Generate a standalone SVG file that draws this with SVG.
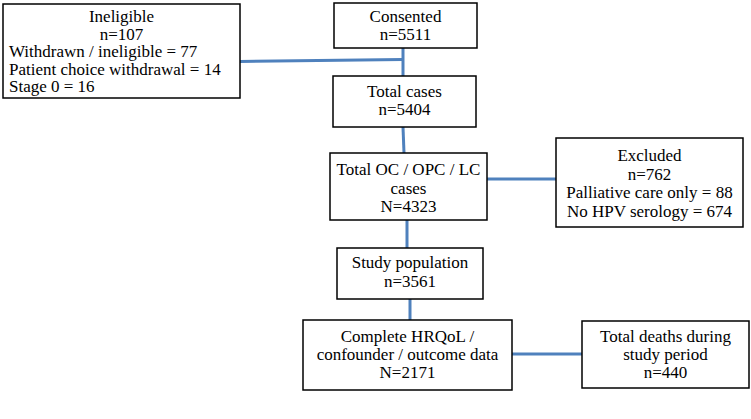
<svg xmlns="http://www.w3.org/2000/svg" width="751" height="419" viewBox="0 0 751 419">
<style>
.box{fill:#fff;stroke:#000;stroke-width:1.5}
.t{font-family:"Liberation Serif","Times New Roman",serif;font-size:17px;fill:#000;text-anchor:middle}
.l{text-anchor:start}
.c{fill:none;stroke:#4F81BD;stroke-width:3}
</style>
<rect width="751" height="419" fill="#fff"/>
<g id="connectors">
<path class="c" d="M240 61.5 L403 59.5"/>
<path class="c" d="M403 48 L403 76"/>
<path class="c" d="M403 127 L404 153"/>
<path class="c" d="M487 179 L556 179"/>
<path class="c" d="M407 220 L407 248"/>
<path class="c" d="M410 299 L410 320"/>
<path class="c" d="M512 354 L582 354"/>
</g>
<g id="ineligible">
<rect class="box" x="3" y="4" width="237" height="94"/>
<text class="t" x="121.5" y="22">Ineligible</text>
<text class="t" x="121.5" y="39.5">n=107</text>
<text class="t l" x="9" y="57">Withdrawn / ineligible = 77</text>
<text class="t l" x="9" y="74.5">Patient choice withdrawal = 14</text>
<text class="t l" x="9" y="92">Stage 0 = 16</text>
</g>
<g id="consented">
<rect class="box" x="334" y="3" width="143" height="45"/>
<text class="t" x="405.5" y="21.5">Consented</text>
<text class="t" x="405.5" y="39.5">n=5511</text>
</g>
<g id="total-cases">
<rect class="box" x="333" y="76" width="143" height="51"/>
<text class="t" x="404.5" y="97">Total cases</text>
<text class="t" x="404.5" y="115">n=5404</text>
</g>
<g id="total-oc">
<rect class="box" x="330" y="153" width="157" height="67"/>
<text class="t" x="408.5" y="175">Total OC / OPC / LC</text>
<text class="t" x="408.5" y="193.5">cases</text>
<text class="t" x="408.5" y="212">N=4323</text>
</g>
<g id="excluded">
<rect class="box" x="556" y="138" width="187" height="89"/>
<text class="t" x="649.5" y="161">Excluded</text>
<text class="t" x="649.5" y="179.5">n=762</text>
<text class="t" x="649.5" y="198">Palliative care only = 88</text>
<text class="t" x="649.5" y="216.5">No HPV serology = 674</text>
</g>
<g id="study-population">
<rect class="box" x="337" y="248" width="146" height="51"/>
<text class="t" x="410" y="268">Study population</text>
<text class="t" x="410" y="287">n=3561</text>
</g>
<g id="complete">
<rect class="box" x="303" y="320" width="209" height="70"/>
<text class="t" x="407.5" y="342">Complete HRQoL /</text>
<text class="t" x="407.5" y="360">confounder / outcome data</text>
<text class="t" x="407.5" y="378">N=2171</text>
</g>
<g id="total-deaths">
<rect class="box" x="582" y="321" width="167" height="67"/>
<text class="t" x="665.5" y="342">Total deaths during</text>
<text class="t" x="665.5" y="360">study period</text>
<text class="t" x="665.5" y="378">n=440</text>
</g>
</svg>
